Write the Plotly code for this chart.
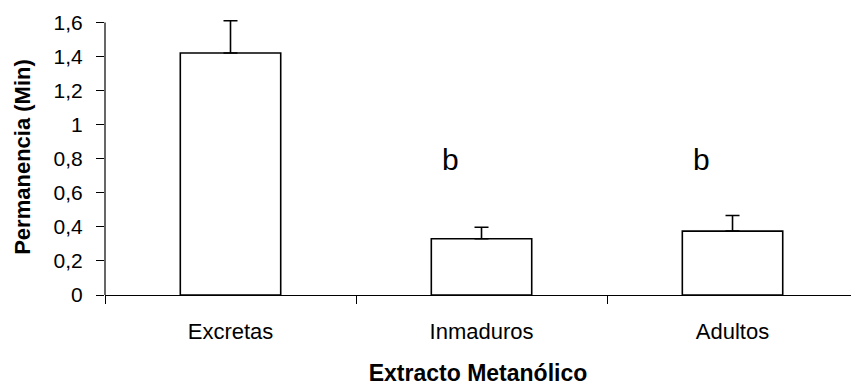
import plotly.graph_objects as go

# Mean residence time per methanolic extract, with upper error
categories = ["Excretas", "Inmaduros", "Adultos"]
means = [1.42, 0.33, 0.375]
errors_up = [0.19, 0.068, 0.092]
group_letters = ["", "b", "b"]
letter_y = [0.795, 0.795, 0.795]

y_ticks = [0, 0.2, 0.4, 0.6, 0.8, 1.0, 1.2, 1.4, 1.6]
y_tick_labels = ["0", "0,2", "0,4", "0,6", "0,8", "1", "1,2", "1,4", "1,6"]

font_family = "Arial, Liberation Sans, sans-serif"

fig = go.Figure()
fig.add_trace(go.Bar(
    x=categories,
    y=means,
    width=0.4,
    marker=dict(color="white", line=dict(color="black", width=1.6)),
    error_y=dict(type="data", symmetric=False, array=errors_up,
                 arrayminus=[0] * len(means), color="black",
                 thickness=1.6, width=7),
    showlegend=False,
))

# significance letters, set a little left of each bar's centre
for cat, letter, ly in zip(categories, group_letters, letter_y):
    if letter:
        fig.add_annotation(x=cat, y=ly, text=letter, showarrow=False,
                           xshift=-31,
                           font=dict(family=font_family, size=30, color="black"))

# vertical axis line stops at the top tick
fig.add_shape(type="line", xref="paper", yref="y",
              x0=0, x1=0, y0=y_ticks[0], y1=y_ticks[-1],
              line=dict(color="black", width=1.2))

fig.update_layout(
    width=851,
    height=389,
    margin=dict(l=105, r=0, t=19, b=94),
    plot_bgcolor="white",
    paper_bgcolor="white",
    font=dict(family=font_family, color="black"),
    xaxis=dict(
        type="category",
        range=[-0.5, 2.472],
        showline=True,
        linecolor="black",
        linewidth=1.2,
        ticks="outside",
        tickson="boundaries",
        ticklen=8,
        tickcolor="black",
        tickwidth=1,
        ticklabelstandoff=16,
        tickfont=dict(size=22, family=font_family),
        showgrid=False,
        zeroline=False,
        title=dict(text="<b>Extracto Metanólico</b>",
                   font=dict(size=23, family=font_family), standoff=22),
    ),
    yaxis=dict(
        range=[0, 1.62],
        tickvals=y_ticks,
        ticktext=y_tick_labels,
        showline=False,
        ticks="outside",
        ticklen=8,
        tickcolor="black",
        tickwidth=1,
        ticklabelstandoff=9,
        tickfont=dict(size=21, family=font_family),
        showgrid=False,
        zeroline=False,
        title=dict(text="<b>Permanencia (Min)</b>",
                   font=dict(size=22, family=font_family), standoff=16),
    ),
)

fig.write_html("out.html")
